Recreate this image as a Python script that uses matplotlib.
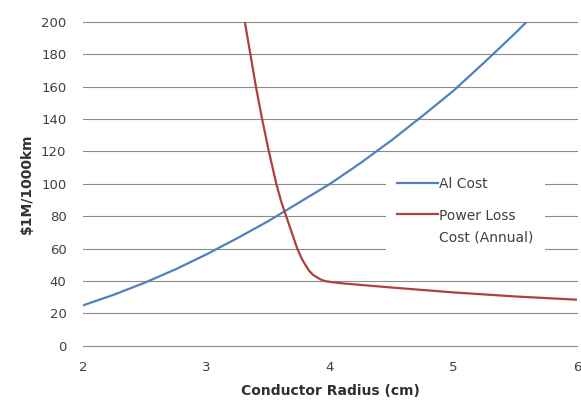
import matplotlib
matplotlib.use("Agg")
import matplotlib.pyplot as plt
from matplotlib.legend_handler import HandlerLine2D

plt.rcParams['font.family'] = ['DejaVu Sans']

# conductor radius (cm) and costs ($1M / 1000 km)
al_radius = [2.0, 2.25, 2.5, 2.75, 3.0, 3.25, 3.5, 3.75, 4.0, 4.25, 4.5, 4.75, 5.0, 5.25, 5.5, 5.75, 6.0]
al_cost = [25, 31.6, 39, 47.3, 56.5, 66.5, 77, 88.5, 100, 113, 127, 142, 157.5, 175, 193, 212, 232]

loss_radius = [3.275, 3.31, 3.355, 3.40, 3.45, 3.505, 3.565, 3.605, 3.645, 3.69, 3.735, 3.77,
               3.8, 3.83, 3.86, 3.9, 3.93, 3.96, 4.0, 4.1, 4.5, 5.0, 5.5, 6.0]
loss_cost = [215, 200, 180, 160, 140, 120, 100, 89, 80, 70, 60, 54,
             50, 46.5, 44, 42, 40.8, 40, 39.5, 38.6, 36, 33, 30.5, 28.5]

x_ticks = [2, 3, 4, 5, 6]
y_ticks = list(range(0, 201, 20))


class FirstLineHandler(HandlerLine2D):
    # put the legend line next to the first text line of a two-line label
    def __init__(self, shift, **kw):
        super().__init__(**kw)
        self.shift = shift

    def create_artists(self, *args, **kw):
        arts = super().create_artists(*args, **kw)
        for a in arts:
            a.set_ydata([y + self.shift for y in a.get_ydata()])
        return arts


fig = plt.figure(figsize=(5.81, 4.05), dpi=100)
ax = fig.add_axes([0.143, 0.146, 0.850, 0.800])

for y in y_ticks:
    ax.axhline(y, color='#8c8c8c', lw=0.8, zorder=1, clip_on=False)

al_line, = ax.plot(al_radius, al_cost, color='#4F81BD', lw=1.6, label='Al Cost', zorder=3)
loss_line, = ax.plot(loss_radius, loss_cost, color='#B0403D', lw=1.6,
                     label='Power Loss\nCost (Annual)', zorder=3)

ax.set_xlim(2, 6)
ax.set_ylim(0, 200)
ax.set_xticks(x_ticks)
ax.set_yticks(y_ticks)
ax.tick_params(length=0, labelsize=9.5, colors='#404040')
ax.tick_params(axis='y', pad=12)
ax.tick_params(axis='x', pad=11)
for s in ax.spines.values():
    s.set_visible(False)

ax.set_xlabel('Conductor Radius (cm)', fontsize=10, fontweight='bold', color='#303030', labelpad=7)
ax.set_ylabel('$1M/1000km', fontsize=10, fontweight='bold', color='#303030', labelpad=5)

leg = ax.legend(loc='upper left', bbox_to_anchor=(0.60, 0.578), frameon=True, fancybox=False,
                facecolor='white', edgecolor='none', framealpha=1, fontsize=10,
                handlelength=2.9, handletextpad=0.1, labelspacing=1.3, borderpad=0.8,
                handler_map={loss_line: FirstLineHandler(10)})
for t in leg.get_texts():
    t.set_color('#404040')
    t.set_linespacing(1.75)
leg.set_zorder(5)

fig.savefig('out.png', dpi=100)
